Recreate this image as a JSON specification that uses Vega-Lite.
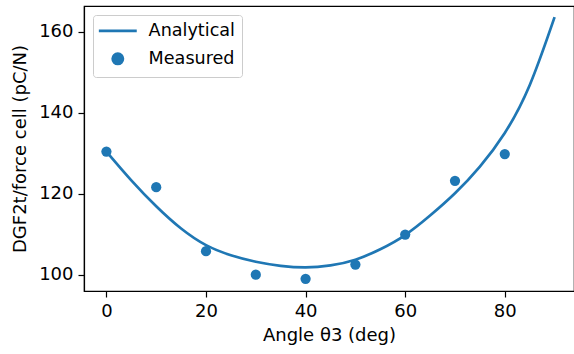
{
  "$schema": "https://vega.github.io/schema/vega-lite/v6.json",
  "autosize": "none",
  "padding": {"left": 84, "top": 6, "right": 0, "bottom": 63},
  "width": 490,
  "height": 285,
  "background": "white",
  "config": {
    "view": {"stroke": "#000000", "strokeWidth": 1.2},
    "font": "DejaVu Sans",
    "axis": {
      "grid": false,
      "domainColor": "#000000",
      "domainWidth": 1.2,
      "tickColor": "#000000",
      "tickWidth": 1.2,
      "tickSize": 6,
      "labelPadding": 5,
      "labelFont": "DejaVu Sans",
      "labelFontSize": 18,
      "labelColor": "#000000",
      "titleFont": "DejaVu Sans",
      "titleFontSize": 18,
      "titleFontWeight": "normal",
      "titleColor": "#000000"
    }
  },
  "data": {
    "values": [
      {"theta": 0, "value": 130.4, "series": "Analytical"},
      {"theta": 5, "value": 123.3, "series": "Analytical"},
      {"theta": 10, "value": 116.9, "series": "Analytical"},
      {"theta": 15, "value": 111.4, "series": "Analytical"},
      {"theta": 20, "value": 107.3, "series": "Analytical"},
      {"theta": 25, "value": 104.8, "series": "Analytical"},
      {"theta": 30, "value": 103.2, "series": "Analytical"},
      {"theta": 35, "value": 102.2, "series": "Analytical"},
      {"theta": 40, "value": 101.8, "series": "Analytical"},
      {"theta": 45, "value": 102.3, "series": "Analytical"},
      {"theta": 50, "value": 103.7, "series": "Analytical"},
      {"theta": 55, "value": 106.3, "series": "Analytical"},
      {"theta": 60, "value": 109.8, "series": "Analytical"},
      {"theta": 65, "value": 114.6, "series": "Analytical"},
      {"theta": 70, "value": 120.1, "series": "Analytical"},
      {"theta": 75, "value": 126.7, "series": "Analytical"},
      {"theta": 80, "value": 135.0, "series": "Analytical"},
      {"theta": 85, "value": 146.8, "series": "Analytical"},
      {"theta": 90, "value": 163.6, "series": "Analytical"},
      {"theta": 0, "value": 130.4, "series": "Measured"},
      {"theta": 10, "value": 121.6, "series": "Measured"},
      {"theta": 20, "value": 105.8, "series": "Measured"},
      {"theta": 30, "value": 100.0, "series": "Measured"},
      {"theta": 40, "value": 99.0, "series": "Measured"},
      {"theta": 50, "value": 102.5, "series": "Measured"},
      {"theta": 60, "value": 109.9, "series": "Measured"},
      {"theta": 70, "value": 123.2, "series": "Measured"},
      {"theta": 80, "value": 129.8, "series": "Measured"}
    ]
  },
  "encoding": {
    "x": {
      "field": "theta",
      "type": "quantitative",
      "scale": {"domain": [-4.5, 93.9], "nice": false, "zero": false},
      "axis": {"values": [0, 20, 40, 60, 80], "title": "Angle θ3 (deg)", "titlePadding": 6}
    },
    "y": {
      "field": "value",
      "type": "quantitative",
      "scale": {"domain": [95.98, 166.35], "nice": false, "zero": false},
      "axis": {"values": [100, 120, 140, 160], "title": "DGF2t/force cell (pC/N)", "titlePadding": 9}
    },
    "color": {
      "field": "series",
      "type": "nominal",
      "scale": {"domain": ["Analytical", "Measured"], "range": ["#1f77b4", "#1f77b4"]},
      "legend": {
        "title": null,
        "orient": "none",
        "legendX": 9,
        "legendY": 9,
        "padding": 7,
        "strokeColor": "#cccccc",
        "fillColor": "rgba(255,255,255,0.8)",
        "cornerRadius": 3,
        "labelFont": "DejaVu Sans",
        "labelFontSize": 17.6,
        "labelColor": "#000000",
        "rowPadding": 8,
        "symbolOffset": 9,
        "labelOffset": 22,
        "symbolSize": 105,
        "encode": {
          "symbols": {
            "update": {
              "shape": {"signal": "datum.value === 'Analytical' ? 'M-3.7,0H3.7' : 'circle'"},
              "fill": {"signal": "datum.value === 'Analytical' ? 'transparent' : '#1f77b4'"},
              "stroke": {"signal": "datum.value === 'Analytical' ? '#1f77b4' : 'transparent'"},
              "strokeWidth": {"value": 2.7},
              "opacity": {"value": 1},
              "size": {"value": 105}
            }
          }
        }
      }
    }
  },
  "layer": [
    {
      "transform": [{"filter": "datum.series === 'Analytical'"}],
      "mark": {"type": "line", "strokeWidth": 2.7, "interpolate": "natural"}
    },
    {
      "transform": [{"filter": "datum.series === 'Measured'"}],
      "mark": {"type": "point", "filled": true, "size": 105, "opacity": 1}
    }
  ]
}
